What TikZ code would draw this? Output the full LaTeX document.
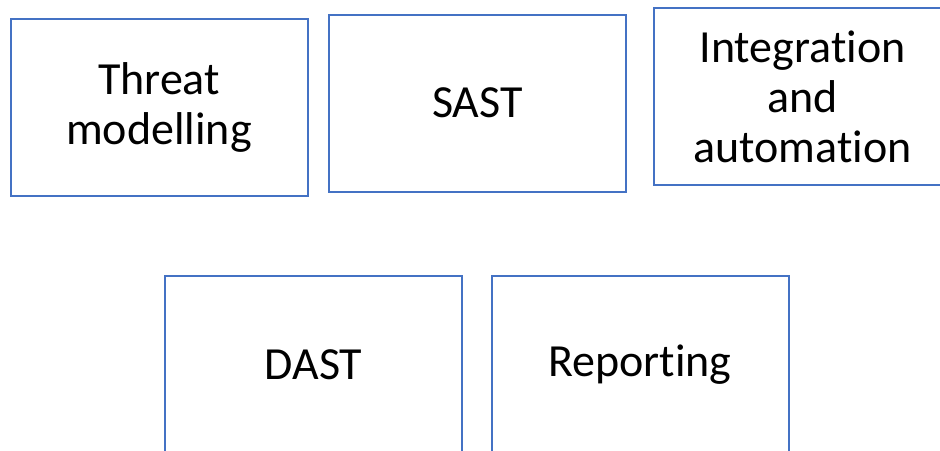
\documentclass[tikz,border=0pt]{standalone}
\usepackage{fontspec}
\setmainfont[Ligatures=NoCommon]{Carlito}
\definecolor{boxblue}{HTML}{4472C4}
\begin{document}
\begin{tikzpicture}[x=1pt,y=-1pt,
  card/.style={draw=boxblue, line width=2pt, fill=white, rectangle,
    minimum width=297pt, minimum height=177pt, inner sep=0pt,
    align=center, font=\fontsize{46}{50}\selectfont}]
\useasboundingbox (0,0) rectangle (940,450);
\clip (0,0) rectangle (940,450);
\node[card] (threat) at (159,107.5) {Threat\\modelling};
\node[card] (sast) at (477.5,103) {SAST};
\node[card] (integ) at (802.5,96.5) {Integration\\and\\automation};
\node[card] (dast) at (313.5,364.5) {DAST};
\node[card] (report) at (640,364.5) {Reporting};
\end{tikzpicture}
\end{document}
